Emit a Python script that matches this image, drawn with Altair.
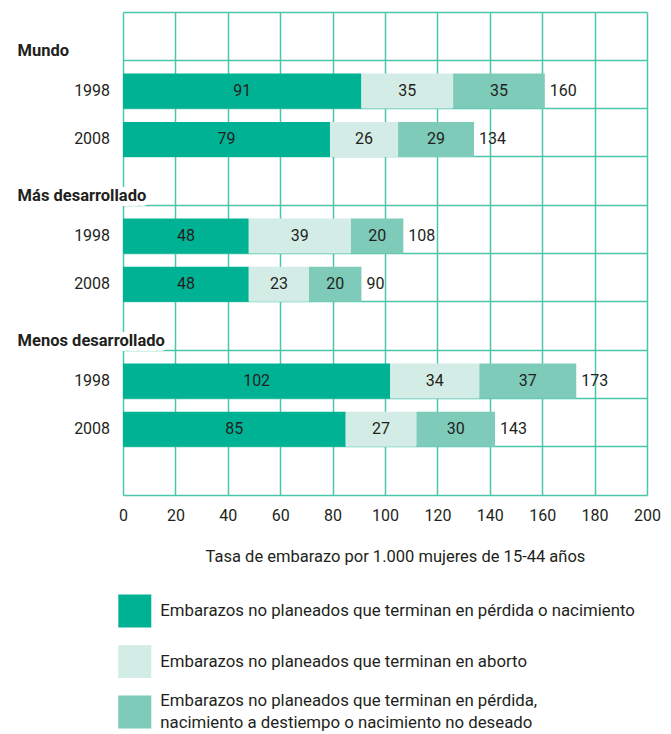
import altair as alt
import pandas as pd

FONT = "Roboto, Liberation Sans, sans-serif"
TXT = "#231f20"

regiones = ["Mundo", "Más desarrollado", "Menos desarrollado"]
anios = ["1998", "2008"]
perdida_nacimiento = [91, 79, 48, 48, 102, 85]
aborto = [35, 26, 39, 23, 34, 27]
no_deseado = [35, 29, 20, 20, 37, 30]
totales = [160, 134, 108, 90, 173, 143]

categorias = [
    "Embarazos no planeados que terminan en pérdida o nacimiento",
    "Embarazos no planeados que terminan en aborto",
    "Embarazos no planeados que terminan en pérdida,\nnacimiento a destiempo o nacimiento no deseado",
]
colores = ["#00b294", "#d3ece5", "#7ecbb9"]
x_ticks = [0, 20, 40, 60, 80, 100, 120, 140, 160, 180, 200]

# row order (band scale): heading row, then the two year rows, per region; blank at end
filas = []
for r in regiones:
    filas.append(r)
    for a in anios:
        filas.append(r + "|" + a)
filas.append("fin")

rows = []
tot_rows = []
i = 0
for r in regiones:
    for a in anios:
        fila = r + "|" + a
        vals = [perdida_nacimiento[i], aborto[i], no_deseado[i]]
        for k, (c, v) in enumerate(zip(categorias, vals)):
            rows.append({"fila": fila, "categoria": c, "valor": v, "orden": k})
        tot_rows.append({"fila": fila, "total": totales[i], "fin": sum(vals)})
        i += 1
df = pd.DataFrame(rows)
df_tot = pd.DataFrame(tot_rows)
df_head = pd.DataFrame({"fila": regiones, "texto": regiones})
df_leg = pd.DataFrame({"item": [0, 1, 2], "categoria": categorias,
                       "lineas": [1 if "\n" not in c else 2 for c in categorias]})

grid_color = "#4cc5ad"
row_scale = alt.Scale(domain=filas, paddingInner=0, paddingOuter=0)
x_scale = alt.Scale(domain=[0, 200], nice=False)
color_scale = alt.Scale(domain=categorias, range=colores)
leg_scale = alt.Scale(type="point", domain=[0, 1, 2], range=[599, 700], padding=0)

bars = alt.Chart(df).mark_bar(size=35, yOffset=6.65).encode(
    x=alt.X(
        "valor:Q",
        stack="zero",
        scale=x_scale,
        axis=alt.Axis(
            title="Tasa de embarazo por 1.000 mujeres de 15-44 años",
            values=x_ticks,
            grid=True,
            gridColor=grid_color,
            gridWidth=1.5,
            domainColor=grid_color,
            domainWidth=1.5,
            ticks=False,
            labelFlush=False,
            labelPadding=12.5,
            labelFont=FONT,
            labelFontSize=16,
            labelColor=TXT,
            titleFont=FONT,
            titleFontSize=16.5,
            titleFontWeight="normal",
            titleColor=TXT,
            titleX=272,
            titleY=66,
            titleBaseline="alphabetic",
        ),
    ),
    y=alt.Y(
        "fila:N",
        scale=row_scale,
        axis=alt.Axis(
            title=None,
            domain=False,
            ticks=False,
            bandPosition=0,
            grid=True,
            gridColor=grid_color,
            gridWidth=1.5,
            labelExpr="indexof(datum.value, '|') >= 0 ? split(datum.value, '|')[1] : ''",
            labelOffset=6.6,
            labelPadding=13.4,
            labelFont=FONT,
            labelFontSize=16,
            labelColor=TXT,
        ),
    ),
    color=alt.Color("categoria:N", scale=color_scale, legend=None),
    order=alt.Order("orden:Q"),
)

seg_text = alt.Chart(df).transform_stack(
    stack="valor", groupby=["fila"], as_=["x0", "x1"], sort=[alt.SortField("orden")]
).transform_calculate(
    mid="(datum.x0 + datum.x1) / 2"
).mark_text(font=FONT, fontSize=16, color=TXT, baseline="middle", yOffset=6.65).encode(
    x=alt.X("mid:Q", scale=x_scale),
    y=alt.Y("fila:N", scale=row_scale, axis=None),
    text="valor:Q",
)

tot_text = alt.Chart(df_tot).mark_text(
    font=FONT, fontSize=16, color=TXT, baseline="middle", align="left", dx=5, yOffset=6.65
).encode(
    x=alt.X("fin:Q", scale=x_scale),
    y=alt.Y("fila:N", scale=row_scale, axis=None),
    text="total:Q",
)

# white halo behind the headings (they sit over the left frame line)
heads_halo = alt.Chart(df_head).mark_text(
    font=FONT, fontSize=16.5, fontWeight="bold", color="white", stroke="white",
    strokeWidth=10, strokeJoin="round", align="left", baseline="alphabetic", dy=20
).encode(
    x=alt.value(-105.4),
    y=alt.Y("fila:N", scale=row_scale, axis=None),
    text="texto:N",
)

heads = alt.Chart(df_head).mark_text(
    font=FONT, fontSize=16.5, fontWeight="bold", color=TXT, align="left",
    baseline="alphabetic", dy=20
).encode(
    x=alt.value(-105.4),
    y=alt.Y("fila:N", scale=row_scale, axis=None),
    text="texto:N",
)

leg_sq = alt.Chart(df_leg).mark_square(size=1089, opacity=1, strokeWidth=0).encode(
    x=alt.value(11.8),
    y=alt.Y("item:O", scale=leg_scale, axis=None),
    color=alt.Color("categoria:N", scale=color_scale, legend=None),
)

leg_txt1 = alt.Chart(df_leg).transform_filter("datum.lineas == 1").mark_text(
    font=FONT, fontSize=16.8, color=TXT, align="left", baseline="middle"
).encode(
    x=alt.value(37.3),
    y=alt.Y("item:O", scale=leg_scale, axis=None),
    text="categoria:N",
)

leg_txt2 = alt.Chart(df_leg).transform_filter("datum.lineas == 2").mark_text(
    font=FONT, fontSize=16.8, color=TXT, align="left", baseline="middle",
    lineBreak="\n", lineHeight=22, dy=-11
).encode(
    x=alt.value(37.3),
    y=alt.Y("item:O", scale=leg_scale, axis=None),
    text="categoria:N",
)

chart = alt.layer(
    bars, seg_text, tot_text, heads_halo, heads, leg_sq, leg_txt1, leg_txt2
).resolve_scale(
    y="independent"
).properties(
    width=524,
    height=483,
    autosize=alt.AutoSizeParams(type="none"),
    padding={"left": 115, "top": 4, "right": 16, "bottom": 238},
).configure_view(stroke=None)

chart.save("out.html", embed_options={"renderer": "svg", "actions": False})
